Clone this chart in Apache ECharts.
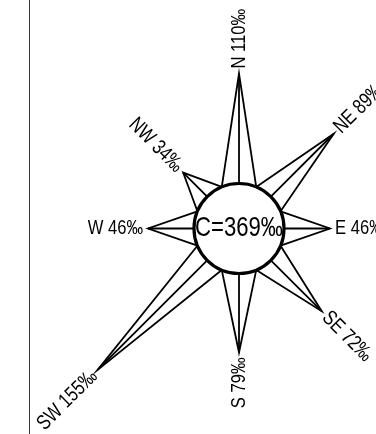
<!DOCTYPE html>
<html>
<head>
<meta charset="utf-8">
<style>
  html, body { margin: 0; padding: 0; background: #fff; }
  #chart { width: 376px; height: 434px; }
</style>
<script src="https://cdn.jsdelivr.net/npm/echarts@6/dist/echarts.min.js"></script>
</head>
<body>
<div id="chart"></div>
<script>
// wind rose data (per mille)
const directions = ["N", "NE", "E", "SE", "S", "SW", "W", "NW"];
const angles = [0, 45, 90, 135, 180, 225, 270, 315];
const frequencies = [110, 89, 46, 72, 79, 155, 46, 34];
const calm = 369;

const FONT = '"Liberation Sans", Arial, sans-serif';
const NARROW = 0.79; // text looks like Arial Narrow

const chart = echarts.init(document.getElementById("chart"));

const armData = directions.map((d, i) => [frequencies[i], angles[i], d]);

function renderArm(params, api) {
  const v = api.value(0);
  const a = api.value(1);
  const name = armData[params.dataIndex][2];
  const cx = params.coordSys.cx;
  const cy = params.coordSys.cy;
  const tip = api.coord([v, a]);
  const mid = api.coord([0, a]);
  const left = api.coord([0, (a + 337.5) % 360]);
  const right = api.coord([0, (a + 22.5) % 360]);

  const dx = tip[0] - cx;
  const dy = tip[1] - cy;
  const len = Math.sqrt(dx * dx + dy * dy);
  const ux = dx / len;
  const uy = dy / len;
  const gap = 5;
  const rightHalf = a < 180;
  const rad = (a * Math.PI) / 180;
  const rotation = rightHalf ? Math.PI / 2 - rad : (3 * Math.PI) / 2 - rad;

  return {
    type: "group",
    children: [
      {
        type: "polyline",
        shape: { points: [left, tip, right] },
        style: { stroke: "#000", lineWidth: 1.8, fill: null },
      },
      {
        type: "line",
        shape: { x1: mid[0], y1: mid[1], x2: tip[0], y2: tip[1] },
        style: { stroke: "#000", lineWidth: 1.8 },
      },
      {
        type: "text",
        x: tip[0] + ux * gap,
        y: tip[1] + uy * gap,
        rotation: rotation,
        scaleX: NARROW,
        style: {
          text: name + " " + v + "‰",
          font: "21px " + FONT,
          fill: "#000",
          align: rightHalf ? "left" : "right",
          verticalAlign: "middle",
        },
      },
    ],
  };
}

function renderCalm(params, api) {
  const cx = params.coordSys.cx;
  const cy = params.coordSys.cy;
  const edge = api.coord([0, 0]);
  const r = Math.sqrt(Math.pow(edge[0] - cx, 2) + Math.pow(edge[1] - cy, 2));
  return {
    type: "group",
    children: [
      {
        type: "circle",
        shape: { cx: cx, cy: cy, r: r },
        style: { fill: "#fff", stroke: "#000", lineWidth: 3.2 },
      },
      {
        type: "text",
        x: cx,
        y: cy,
        scaleX: NARROW,
        style: {
          text: "C=" + api.value(0) + "‰",
          font: "28px " + FONT,
          fill: "#000",
          align: "center",
          verticalAlign: "middle",
        },
      },
    ],
  };
}

chart.setOption({
  animation: false,
  polar: {
    center: [239, 228.5],
    radius: 205,
  },
  angleAxis: {
    type: "value",
    min: 0,
    max: 360,
    startAngle: 90,
    clockwise: true,
    show: false,
  },
  radiusAxis: {
    type: "value",
    min: -45,
    max: 160,
    show: false,
  },
  graphic: [
    {
      type: "line",
      shape: { x1: 29.5, y1: 0, x2: 29.5, y2: 434 },
      style: { stroke: "#333", lineWidth: 1 },
      silent: true,
    },
  ],
  series: [
    {
      type: "custom",
      coordinateSystem: "polar",
      silent: true,
      encode: { radius: 0, angle: 1 },
      data: armData.map((d) => [d[0], d[1]]),
      renderItem: renderArm,
      z: 2,
    },
    {
      type: "custom",
      coordinateSystem: "polar",
      silent: true,
      encode: { radius: 0 },
      data: [[calm]],
      renderItem: renderCalm,
      z: 3,
    },
  ],
});
</script>
</body>
</html>
